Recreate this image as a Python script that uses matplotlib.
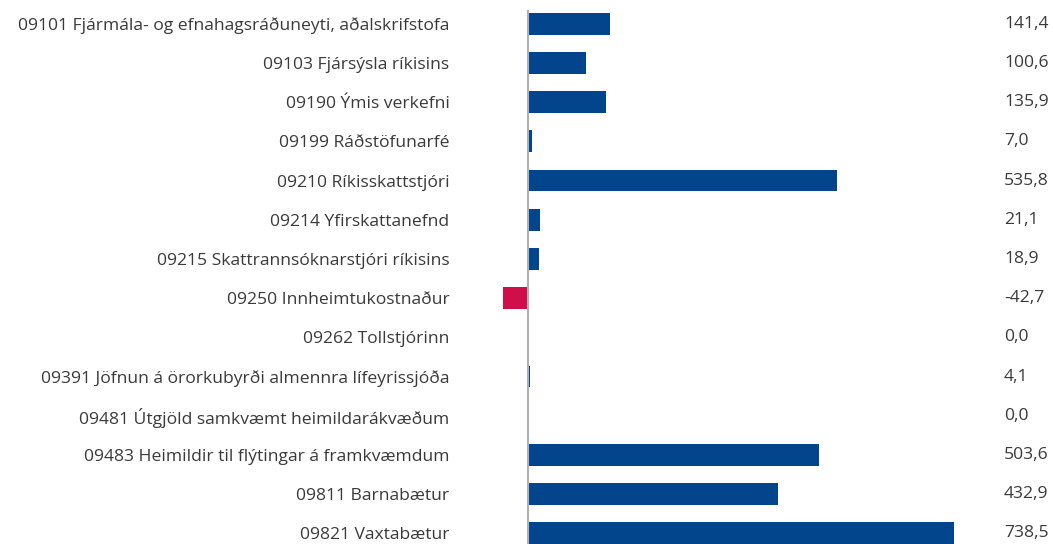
import matplotlib.pyplot as plt
import numpy as np

# categories and values (m.kr.)
categories = [
    '09101 Fjármála- og efnahagsráðuneyti, aðalskrifstofa',
    '09103 Fjársýsla ríkisins',
    '09190 Ýmis verkefni',
    '09199 Ráðstöfunarfé',
    '09210 Ríkisskattstjóri',
    '09214 Yfirskattanefnd',
    '09215 Skattrannsóknarstjóri ríkisins',
    '09250 Innheimtukostnaður',
    '09262 Tollstjórinn',
    '09391 Jöfnun á örorkubyrði almennra lífeyrissjóða',
    '09481 Útgjöld samkvæmt heimildarákvæðum',
    '09483 Heimildir til flýtingar á framkvæmdum',
    '09811 Barnabætur',
    '09821 Vaxtabætur',
]
values = [141.4, 100.6, 135.9, 7.0, 535.8, 21.1, 18.9, -42.7, 0.0, 4.1, 0.0, 503.6, 432.9, 738.5]

blue = '#03458c'
red = '#cf0e4a'
txt = '#3a3a3a'

plt.rcParams['font.family'] = ['Open Sans', 'DejaVu Sans']

W, H = 1053, 544
fig = plt.figure(figsize=(W / 100, H / 100), dpi=100)
ax = fig.add_axes([480 / W, 0, 520 / W, 1])

y = np.arange(len(categories))
colors = [red if v < 0 else blue for v in values]
ax.barh(y, values, height=0.56, color=colors, zorder=2)

scale = 0.577  # px per unit
ax.set_xlim((480 - 528) / scale, (1000 - 528) / scale)
ax.set_ylim((544 - 23.7) / 39.2, -23.7 / 39.2)

# zero line
ax.axvline(0, ymin=0, ymax=1 - 11 / H, color='#b0b0b0', lw=1.5, zorder=3)

ax.set_yticks(y)
ax.set_yticklabels(categories, fontsize=12.6, color=txt)
ax.tick_params(axis='y', length=0, pad=22)
ax.set_xticks([])
for s in ax.spines.values():
    s.set_visible(False)

# value labels on the right
for yi, v in zip(y, values):
    lab = f'{v:.1f}'.replace('.', ',')
    ax.annotate(lab, xy=(1004 / W, yi), xycoords=('figure fraction', 'data'),
                fontsize=12.6, color=txt, va='center', ha='left', annotation_clip=False)

fig.savefig('out.png', dpi=100)
